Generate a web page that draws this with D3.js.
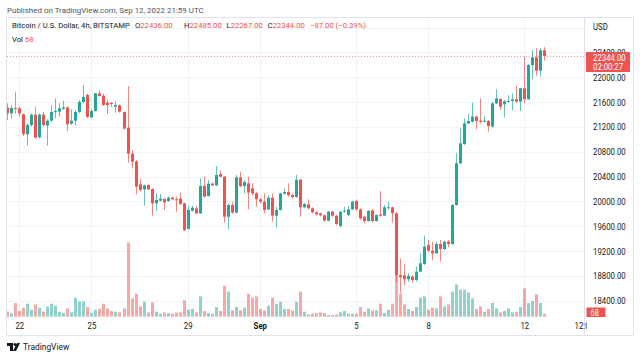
<!DOCTYPE html>
<html><head><meta charset="utf-8">
<script src="https://cdn.jsdelivr.net/npm/d3@7"></script>
<style>body{margin:0;background:#fff;} svg{display:block;font-family:Roboto, "Noto Sans", sans-serif;}</style>
</head><body><svg id="c" width="640" height="359"></svg>
<script>
// ---- data (4h candles, BITSTAMP BTC/USD) ----
const firstCandle = "2022-08-21T12:00:00Z";
const open = [21511,21419,21505,21500,21403,21081,21231,21398,21033,21398,21221,21301,21441,21446,21495,21516,21253,21301,21441,21602,21715,21355,21457,21742,21704,21591,21586,21527,21548,21441,21188,20770,20646,20275,20195,20265,20200,19969,20012,20039,20007,20061,20034,20044,19969,19556,19851,19888,19808,20248,20087,20286,20259,20442,20399,19754,19942,19819,20388,20248,20291,20211,20130,20034,19996,19872,20060,19770,19862,20125,20152,20103,20071,20350,19905,19953,19889,19824,19808,19776,19690,19835,19770,19604,19835,19781,19872,20007,19872,19754,19684,19856,19684,19792,19770,19889,19905,19808,18814,18809,18745,18788,18734,18868,18992,19298,19206,19164,19314,19233,19352,19314,19942,20614,20925,21258,21285,21366,21301,21285,21296,21205,21580,21650,21564,21602,21618,21645,21607,21822,21645,22198,22322,22107,22436];
const high = [21581,21554,21768,21527,21419,21258,21419,21527,21419,21446,21323,21554,21661,21581,21624,21527,21484,21473,21634,21876,21742,21495,21752,21795,21742,21634,21602,21607,21564,21446,21860,20829,20667,20361,20270,20275,20211,20130,20120,20050,20077,20077,20077,20146,19980,19932,19932,19926,20372,20399,20340,20302,20571,20496,20410,19969,19996,20426,20479,20345,20399,20291,20157,20050,20130,20103,20130,19915,20141,20211,20291,20130,20426,20361,19980,20034,19905,19840,19819,19792,19846,19846,19781,19846,19915,19926,20012,20023,19889,19770,19862,19872,19792,20168,19942,19996,19915,19830,19083,18992,18841,18814,18949,19164,19448,19378,19352,19352,19378,19362,19378,19958,20775,21178,21339,21409,21591,21376,21661,21376,21312,21607,21806,21661,21634,21715,21742,21860,21833,22332,22214,22440,22467,22470,22485];
const low = [21312,21339,21419,21376,21054,20898,21205,21017,21017,21205,20898,21285,21339,21366,21473,21135,21231,21231,21419,21581,21339,21339,21446,21688,21538,21409,21527,21430,21430,21162,20625,20533,20114,20157,19932,20184,19770,19851,19996,19862,19991,20023,19835,19942,19523,19545,19835,19797,19797,20066,20077,20248,20248,20388,19658,19550,19797,19808,20227,20130,19872,20103,19915,19969,19808,19862,19674,19582,19851,20114,20077,20050,20060,19754,19889,19872,19808,19776,19760,19674,19679,19754,19615,19582,19819,19765,19862,19851,19701,19647,19674,19668,19674,19754,19760,19872,19658,18700,18520,18650,18707,18691,18707,18857,18976,19190,19056,19153,19029,19217,19260,19303,19931,20603,20909,21247,21269,21162,21258,21269,21124,21194,21570,21473,21355,21591,21473,21591,21457,21580,21634,21973,22021,22010,22267];
const close = [21419,21505,21489,21419,21081,21231,21398,21027,21398,21231,21301,21441,21457,21500,21516,21242,21301,21441,21602,21683,21360,21457,21742,21699,21554,21554,21570,21554,21446,21172,20770,20641,20238,20184,20259,20195,19969,20023,20044,19985,20061,20034,20023,19959,19534,19862,19899,19808,20248,20077,20286,20259,20426,20399,19754,19942,19819,20388,20248,20313,20141,20130,20034,19996,19862,20060,19770,19862,20130,20152,20103,20071,20350,19905,19958,19889,19824,19792,19776,19690,19835,19770,19636,19835,19851,19872,19996,19872,19727,19684,19846,19684,19781,19770,19905,19905,19808,18814,18777,18745,18798,18734,18868,19003,19271,19206,19164,19314,19233,19352,19314,19942,20614,20936,21258,21296,21366,21296,21280,21301,21215,21580,21661,21527,21613,21618,21645,21607,21822,21645,22198,22322,22107,22436,22344];
const volume = [120,75,310,129,204,295,159,279,204,113,234,295,249,113,84,188,97,431,347,347,220,84,159,175,295,188,129,113,97,188,1684,415,521,234,340,97,324,113,68,97,84,68,97,97,370,159,175,97,460,129,84,68,220,129,703,567,143,220,143,204,521,431,460,175,143,249,431,295,340,175,175,143,340,567,113,52,68,84,97,84,39,39,52,97,129,68,68,68,220,113,188,143,143,295,84,159,295,945,521,279,175,129,220,431,460,159,204,188,460,234,279,567,732,612,612,551,415,175,234,113,175,310,188,97,129,188,97,113,220,642,310,356,506,310,68];
const priceTicks = [18400,18800,19200,19600,20000,20400,20800,21200,21600,22000,22400,22800];
const timeTickDates = ["2022-08-22","2022-08-25","2022-08-29","2022-09-01","2022-09-05","2022-09-08","2022-09-12"];
const timeTickLabels = ["22","25","29","Sep","5","8","12"];
const lastInfo = {o:"22436.00", h:"22485.00", l:"22267.00", c:"22344.00", chg:"\u221287.00 (\u22120.39%)", vol:"68", countdown:"02:00:27"};

// ---- layout ----
const UP = "#26a69a", DOWN = "#ef5350";
const UPV = "rgba(38,166,154,0.5)", DOWNV = "rgba(239,83,80,0.5)";
const plot = {l:6, r:584, t:17, b:317};
const svg = d3.select("#c");
const t0 = new Date(firstCandle).getTime();
const candles = open.map((o,i)=>({t:new Date(t0 + i*4*3600e3), o, h:high[i], l:low[i], c:close[i], v:volume[i]}));

const x = d3.scaleUtc().domain([new Date("2022-08-22T00:00:00Z"), new Date("2022-09-12T00:00:00Z")]).range([19.3, 524.3]);
const y = d3.scaleLinear().domain([18400, 22000]).range([300.7, 77.3]);
const yv = d3.scaleLinear().domain([0, 1700]).range([316.7, 241.7]);

// horizontal squeeze helpers (the reference font is narrower than the installed ones)
function ratioFor(sel, w){ return w / sel.node().getComputedTextLength(); }
function squeeze(sel, r){
  sel.each(function(){ const L = this.getComputedTextLength();
    d3.select(this).attr("textLength", (L*r).toFixed(2)).attr("lengthAdjust","spacingAndGlyphs"); });
}
function fit(sel, w){
  const cur = sel.node().getComputedTextLength(); const fs = parseFloat(sel.attr("font-size"));
  const nf = fs * w / cur; sel.attr("font-size", nf.toFixed(2)+"px"); return nf;
}

// outer box
svg.append("rect").attr("x",6.5).attr("y",17.5).attr("width",627).attr("height",318).attr("fill","none").attr("stroke","#e0e3eb");
svg.append("line").attr("x1",584.5).attr("x2",584.5).attr("y1",17).attr("y2",335).attr("stroke","#e0e3eb");

svg.append("clipPath").attr("id","pc").append("rect").attr("x",7).attr("y",18).attr("width",plot.r-7).attr("height",plot.b-18);
const g = svg.append("g").attr("clip-path","url(#pc)");

// grid
g.selectAll(".hg").data(priceTicks).enter().append("line")
  .attr("x1",plot.l).attr("x2",plot.r).attr("y1",d=>Math.round(y(d))+0.5).attr("y2",d=>Math.round(y(d))+0.5)
  .attr("stroke","#f0f3fa");
g.selectAll(".vg").data(timeTickDates).enter().append("line")
  .attr("x1",d=>Math.round(x(new Date(d+"T00:00:00Z")))+0.5).attr("x2",d=>Math.round(x(new Date(d+"T00:00:00Z")))+0.5)
  .attr("y1",plot.t).attr("y2",plot.b).attr("stroke","#f0f3fa");

// volume
g.selectAll(".vb").data(candles).enter().append("rect")
  .attr("x",d=>Math.round(x(d.t))-1).attr("width",3)
  .attr("y",d=>yv(d.v)).attr("height",d=>yv(0)-yv(d.v))
  .attr("fill",d=>d.c>=d.o?UPV:DOWNV);

// wicks
g.selectAll(".wk").data(candles).enter().append("line")
  .attr("x1",d=>Math.round(x(d.t))+0.5).attr("x2",d=>Math.round(x(d.t))+0.5)
  .attr("y1",d=>y(d.h)).attr("y2",d=>y(d.l))
  .attr("stroke",d=>d.c>=d.o?UP:DOWN).attr("stroke-opacity",0.7);
// bodies
g.selectAll(".bd").data(candles).enter().append("rect")
  .attr("x",d=>Math.round(x(d.t))-1).attr("width",3)
  .attr("y",d=>y(Math.max(d.o,d.c)))
  .attr("height",d=>Math.max(1, Math.abs(y(d.o)-y(d.c))))
  .attr("fill",d=>d.c>=d.o?UP:DOWN);

// last price dotted line
const last = candles[candles.length-1];
svg.append("line").attr("x1",7).attr("x2",584).attr("y1",Math.round(y(last.c))+0.5).attr("y2",Math.round(y(last.c))+0.5)
  .attr("stroke",DOWN).attr("stroke-opacity",0.6).attr("stroke-width",1).attr("stroke-dasharray","1,2");

// price axis
const AFS = "9.5px";
const pa = svg.append("g").attr("transform","translate(584,0)")
  .call(d3.axisRight(y).tickValues(priceTicks.filter(v=>v<22800)).tickSize(0).tickPadding(9).tickFormat(d3.format(".2f")));
pa.select(".domain").remove();
pa.selectAll("text").attr("fill","#131722").attr("font-size",AFS).attr("font-family","Roboto, sans-serif");
const ar = ratioFor(pa.select(".tick text"), 32.7);
squeeze(pa.selectAll("text"), ar);
squeeze(svg.append("text").attr("x",593).attr("y",27).attr("dy","0.35em").attr("font-size",AFS).attr("fill","#131722").text("USD"), ar);

// last price label
svg.append("rect").attr("x",586).attr("y",52).attr("width",44).attr("height",20).attr("fill",DOWN).attr("rx",1);
squeeze(svg.append("text").attr("x",593).attr("y",57.5).attr("dy","0.35em").attr("font-size",AFS).attr("fill","#fff").text(lastInfo.c), ar);
squeeze(svg.append("text").attr("x",593).attr("y",66.5).attr("dy","0.35em").attr("font-size",AFS).attr("fill","#fff").text(lastInfo.countdown), ar);
// volume label
svg.append("rect").attr("x",586.5).attr("y",307.5).attr("width",19).attr("height",9.5).attr("fill",DOWN);
squeeze(svg.append("text").attr("x",590.5).attr("y",312.5).attr("dy","0.35em").attr("font-size","9px").attr("fill","#fff").text(lastInfo.vol), ar);

// time axis
const ta = svg.append("g").attr("transform",`translate(0,${plot.b})`)
  .call(d3.axisBottom(x).tickValues(timeTickDates.map(d=>new Date(d+"T00:00:00Z"))).tickSize(0).tickPadding(5)
    .tickFormat((d,i)=>timeTickLabels[i]));
ta.select(".domain").remove();
ta.selectAll("text").attr("fill","#131722").attr("font-size",AFS).attr("font-family","Roboto, sans-serif")
  .attr("font-weight",(d,i)=>timeTickLabels[i]==="Sep"?"bold":"normal");
squeeze(ta.selectAll("text"), ar);
svg.append("clipPath").attr("id","tc").append("rect").attr("x",7).attr("y",318).attr("width",580).attr("height",17);
squeeze(svg.append("text").attr("clip-path","url(#tc)").attr("x",574.5).attr("y",326).attr("dy","0.35em").attr("font-size",AFS).attr("fill","#131722").text("12:00"), ar);

// header
const pub = svg.append("text").attr("x",7).attr("y",13).attr("font-size","9.5px").attr("fill","#50535e").text("Published on TradingView.com, Sep 12, 2022 21:59 UTC");
fit(pub, 197);
const lg = svg.append("g");
const title = lg.append("text").attr("x",12).attr("y",28).attr("font-size","9px").attr("fill","#131722").text("Bitcoin / U.S. Dollar, 4h, BITSTAMP");
const lfs = fit(title, 118).toFixed(2)+"px";
const parts = [["O",lastInfo.o,135],["H",lastInfo.h,184],["L",lastInfo.l,226.5],["C",lastInfo.c,267.5]];
parts.forEach(p=>{
  const t = lg.append("text").attr("x",p[2]).attr("y",28).attr("font-size",lfs);
  t.append("tspan").attr("fill","#131722").text(p[0]);
  t.append("tspan").attr("fill",DOWN).text(p[1]);
});
lg.append("text").attr("x",310).attr("y",28).attr("font-size",lfs).attr("fill",DOWN).text(lastInfo.chg);
const vl = lg.append("text").attr("x",12).attr("y",42).attr("font-size",lfs);
vl.append("tspan").attr("fill","#131722").text("Vol ");
vl.append("tspan").attr("fill",DOWN).text(lastInfo.vol);

// footer logo
const logo = svg.append("g").attr("transform","translate(7,343)").attr("fill","#131722");
logo.append("path").attr("d","M0 0 H6 V8 H3 V3 H0 Z");
logo.append("circle").attr("cx",8).attr("cy",1.5).attr("r",1.5);
logo.append("path").attr("d","M10 0 H13 L9 8 H6 Z");
const tvt = svg.append("text").attr("x",23).attr("y",347).attr("dy","0.35em").attr("font-size","10.5px").attr("fill","#131722").text("TradingView");
fit(tvt, 46.3);
</script></body></html>
